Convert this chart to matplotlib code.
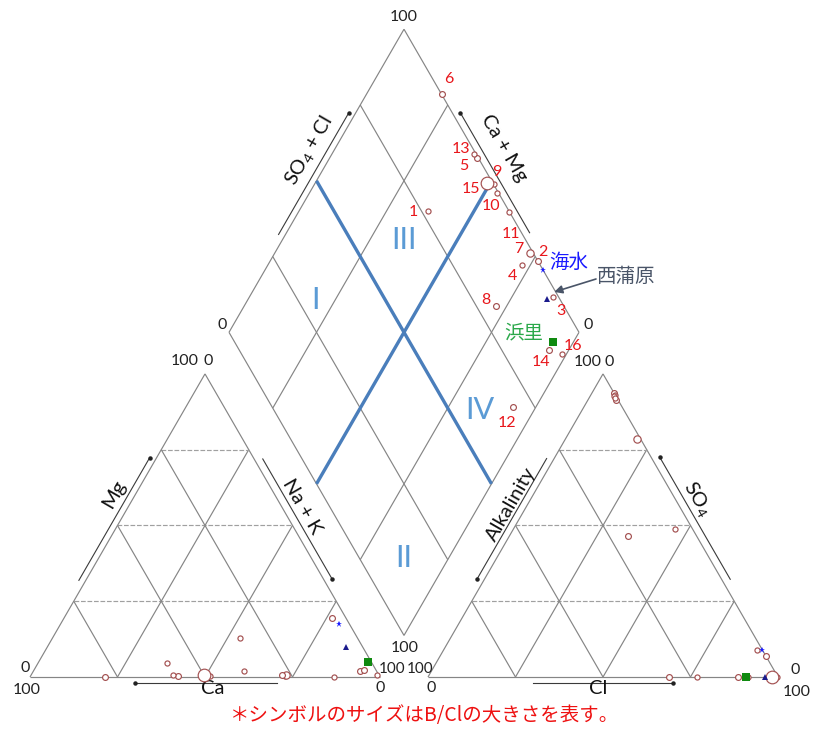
import numpy as np
import matplotlib
matplotlib.use("Agg")
import matplotlib.pyplot as plt

plt.rcParams['font.family'] = ['Lato', 'DejaVu Sans']
plt.rcParams['mathtext.fontset'] = 'custom'
plt.rcParams['mathtext.rm'] = 'Lato'
plt.rcParams['mathtext.default'] = 'regular'

# ---- sample waters (meq %) ----
sample_ids = ['1', '2', '3', '4', '5', '6', '7', '8',
              '9', '10', '11', '12', '13', '14', '15', '16']
ca   = [58.5, 4.0, 13.1, 27.1, 57.7, 78.5, 26.5, 27.7,
        48.6, 33.4, 37.9, 4.6, 58.9, 3.4, 50.0, 0.6]
mg   = [4.5, 19.4, 0.0, 0.2, 0.3, 0.0, 0.7, 0.5,
        0.2, 13.0, 2.1, 2.1, 0.5, 2.3, 0.8, 0.7]
nak  = [37.0, 76.6, 86.9, 72.7, 42.0, 21.5, 72.8, 71.8,
        51.2, 53.6, 60.0, 93.3, 40.6, 94.3, 49.2, 98.7]
cl   = [77.0, 93.2, 89.6, 46.2, 8.0, 6.4, 20.5, 33.9,
        7.0, 6.8, 99.8, 68.8, 7.5, 88.6, 98.4, 91.4]
so4  = [0.0, 6.8, 8.9, 48.7, 91.5, 93.6, 78.6, 46.6,
        93.0, 92.8, 0.0, 0.0, 92.0, 0.0, 0.0, 0.0]
hco3 = [23.0, 0.0, 1.5, 5.1, 0.5, 0.0, 0.9, 19.5,
        0.0, 0.4, 0.2, 31.2, 0.5, 11.4, 1.6, 8.6]
# relative B/Cl ratio (symbol size)
b_cl = [2.1, 2.4, 2.1, 2.1, 2.4, 2.4, 3.0, 2.4,
        2.1, 2.1, 2.1, 2.4, 2.1, 2.4, 5.2, 2.1]

# ---- reference waters ----
ref_names = ['海水', '西蒲原', '浜里']
ref_ca   = [3.0, 4.6, 0.9]
ref_mg   = [17.4, 10.0, 5.0]
ref_nak  = [79.6, 85.4, 94.1]
ref_cl   = [91.1, 96.4, 90.9]
ref_so4  = [8.9, 0.0, 0.0]
ref_hco3 = [0.0, 3.6, 9.1]

# ---- Piper geometry (triangle side = 1) ----
H = np.sqrt(3) / 2
GAP = 48 / 350
B = np.array([1 + GAP / 2, GAP / 2 * np.sqrt(3)])
U1 = np.array([-0.5, H])
U2 = np.array([0.5, H])
ANX = 1 + GAP


def cation_xy(c, m, n):
    c, m, n = map(np.asarray, (c, m, n))
    t = c + m + n
    return n / t + m / t / 2, m / t * H


def anion_xy(l, s, h):
    l, s, h = map(np.asarray, (l, s, h))
    t = l + s + h
    return ANX + l / t + s / t / 2, s / t * H


def diamond_xy(c, m, n, l, s, h):
    c, m, n, l, s, h = map(np.asarray, (c, m, n, l, s, h))
    cm = (c + m) / (c + m + n)
    a = (l + s) / (l + s + h)
    x = B[0] + cm * U1[0] + a * U2[0]
    y = B[1] + cm * U1[1] + a * U2[1]
    return x, y


def px(x, y):
    return (x - 30) / 350, (677 - y) / 350


fig = plt.figure(figsize=(8.15, 7.31), dpi=100)
ax = fig.add_axes([0, 0, 1, 1])
ax.set_xlim(-30 / 350, 785 / 350)
ax.set_ylim(-54 / 350, 677 / 350)
ax.axis('off')

EDGE = '#858585'
LW = 0.85


def seg(p, q, **kw):
    kw.setdefault('color', EDGE)
    kw.setdefault('lw', LW)
    ax.plot([p[0], q[0]], [p[1], q[1]], solid_capstyle='butt', **kw)


# triangles with 25 % grid
for ox in (0.0, ANX):
    a0, a1, a2 = np.array([ox, 0]), np.array([ox + 1, 0]), np.array([ox + 0.5, H])
    seg(a0, a1); seg(a1, a2); seg(a2, a0)
    for k in (0.25, 0.5, 0.75):
        seg((ox + k / 2, k * H), (ox + 1 - k / 2, k * H),
            color='#a0a0a0', ls=(0, (4, 1.5)))
        seg((ox + k, 0), (ox + k / 2, k * H))
        seg((ox + k, 0), (ox + k + (1 - k) / 2, (1 - k) * H))

# diamond with 25 % grid
L, T, R = B + U1, B + U1 + U2, B + U2
seg(B, L); seg(L, T); seg(T, R); seg(R, B)
for k in (0.25, 0.5, 0.75):
    seg(B + k * U1, B + k * U1 + U2)
    seg(B + k * U2, B + U1 + k * U2)

# facies dividers
BLUE = '#4a7ebb'
seg(B + 0.5 * U2, B + U1 + 0.5 * U2, color=BLUE, lw=2.4)
seg(B + 0.5 * U1, B + 0.5 * U1 + U2, color=BLUE, lw=2.4)

# facies names
for txt, (xx, yy) in [('I', (316, 300)), ('II', (404, 558)),
                       ('III', (404, 240)), ('IV', (480, 410))]:
    ax.text(*px(xx, yy), txt, color='#5b9bd5', fontsize=22,
            ha='center', va='center')


# axis captions with direction lines
def side_label(p0, p1, nrm, t0, t1, off, text, tt, toff, rot, dot_end):
    p0, p1, nrm = np.asarray(p0), np.asarray(p1), np.asarray(nrm)
    d = p1 - p0
    q0 = p0 + t0 * d + nrm * off / 350
    q1 = p0 + t1 * d + nrm * off / 350
    ax.plot([q0[0], q1[0]], [q0[1], q1[1]], color='#3a3a3a', lw=0.8)
    qd = q1 if dot_end else q0
    ax.plot(qd[0], qd[1], 'o', color='#222222', ms=2.2)
    tp = p0 + tt * d + nrm * toff / 350
    ax.text(tp[0], tp[1], text, rotation=rot, rotation_mode='anchor',
            ha='center', va='center', fontsize=14.5, color='#111111')


NL = np.array([-H, 0.5])
NR = np.array([H, 0.5])
ND = np.array([0, -1.0])
side_label((0, 0), (0.5, H), NL, 0.309, 0.714, 6, 'Mg', 0.572, 19, 60, True)
side_label((0.5, H), (1, 0), NR, 0.293, 0.688, 7.5, 'Na + K', 0.467, 18, -60, True)
side_label((0, 0), (1, 0), ND, 0.30, 0.706, 6, 'Ca', 0.523, 11, 0, False)
side_label((ANX, 0), (ANX + 0.5, H), NL, 0.3125, 0.71, 6.5, 'Alkalinity', 0.547, 14.5, 60, False)
side_label((ANX + 0.5, H), (ANX + 1, 0), NR, 0.286, 0.69, 7.5, 'SO$_4$', 0.444, 19, -60, False)
side_label((ANX, 0), (ANX + 1, 0), ND, 0.30, 0.70, 6, 'Cl', 0.486, 11, 0, True)
side_label(L, T, NL, 0.313, 0.713, 6, 'SO$_4$ + Cl', 0.563, 21.5, 60, True)
side_label(T, R, NR, 0.287, 0.683, 7, 'Ca + Mg', 0.437, 27, -60, False)

# scale values at the corners
ticks = [('100', 185, 361), ('0', 208, 361), ('0', 25, 668), ('100', 27, 690),
         ('0', 380, 688), ('0', 431, 688),
         ('100', 588, 362), ('0', 609, 362), ('0', 795, 670), ('100', 797, 692),
         ('100', 404, 17), ('0', 222, 325), ('0', 588, 325), ('100', 405, 648)]
for txt, xx, yy in ticks:
    ax.text(*px(xx, yy), txt, fontsize=11.5, ha='center', va='center', color='#222222')
# the two touching values between the lower triangles
ax.text(*px(405, 669), '100', fontsize=11, ha='right', va='center', color='#222222')
ax.text(*px(407, 669), '100', fontsize=11, ha='left', va='center', color='#222222')

# ---- samples ----
ms = 1.75 * np.asarray(b_cl)
POINT = '#a35050'
cx, cy = cation_xy(ca, mg, nak)
axx, ayy = anion_xy(cl, so4, hco3)
dx, dy = diamond_xy(ca, mg, nak, cl, so4, hco3)
for xs, ys in ((cx, cy), (axx, ayy), (dx, dy)):
    for x, y, m in zip(xs, ys, ms):
        ax.plot(x, y, 'o', ms=m, mfc='white', mec=POINT, mew=0.85, zorder=5)

label_offsets = {'1': (-15, 1), '2': (5, -9), '3': (7, 14), '4': (-10, 11),
                 '5': (-13, 8), '6': (7, -15), '7': (-11, -4), '8': (-10, -6),
                 '9': (3, -12), '10': (-6, 13), '11': (2, 22), '12': (-6, 16),
                 '13': (-13, -5), '14': (-8, 12), '15': (-16, 6), '16': (11, -8)}
for sid, x, y in zip(sample_ids, dx, dy):
    ox, oy = label_offsets[sid]
    ax.annotate(sid, (x, y), xytext=(ox, -oy), textcoords='offset pixels',
                ha='center', va='center', fontsize=11.5, color='#e8161b', zorder=6)

# ---- reference waters ----
ref_style = [dict(marker='*', color='#1a1aff', ms=5),
             dict(marker='^', color='#1a1a8c', ms=4),
             dict(marker='s', color='#108a10', ms=5.5)]
rcx, rcy = cation_xy(ref_ca, ref_mg, ref_nak)
rax, ray = anion_xy(ref_cl, ref_so4, ref_hco3)
rdx, rdy = diamond_xy(ref_ca, ref_mg, ref_nak, ref_cl, ref_so4, ref_hco3)
for i, st in enumerate(ref_style):
    for xs, ys in ((rcx, rcy), (rax, ray), (rdx, rdy)):
        ax.plot(xs[i], ys[i], ls='none', zorder=7, mew=0, **st)

JP = ['Noto Sans CJK JP', 'DejaVu Sans']
ax.text(*px(569, 262), ref_names[0], family=JP, fontsize=14, color='#1a1aff',
        ha='center', va='center')
ax.text(*px(626, 277), ref_names[1], family=JP, fontsize=14, color='#4a5568',
        ha='center', va='center')
ax.annotate('', xy=(rdx[1] + 7 / 350, rdy[1] + 7 / 350), xytext=px(596, 279),
            arrowprops=dict(arrowstyle='-|>', color='#4a5568', lw=1.2,
                            mutation_scale=12, shrinkA=0, shrinkB=0))
ax.text(*px(524, 333), ref_names[2], family=JP, fontsize=14, color='#2aa84a',
        ha='center', va='center')

ax.text(*px(425, 715), '＊シンボルのサイズはB/Clの大きさを表す。', family=JP,
        fontsize=14, color='#ee1111', ha='center', va='center')

fig.savefig('out.png', dpi=100)
